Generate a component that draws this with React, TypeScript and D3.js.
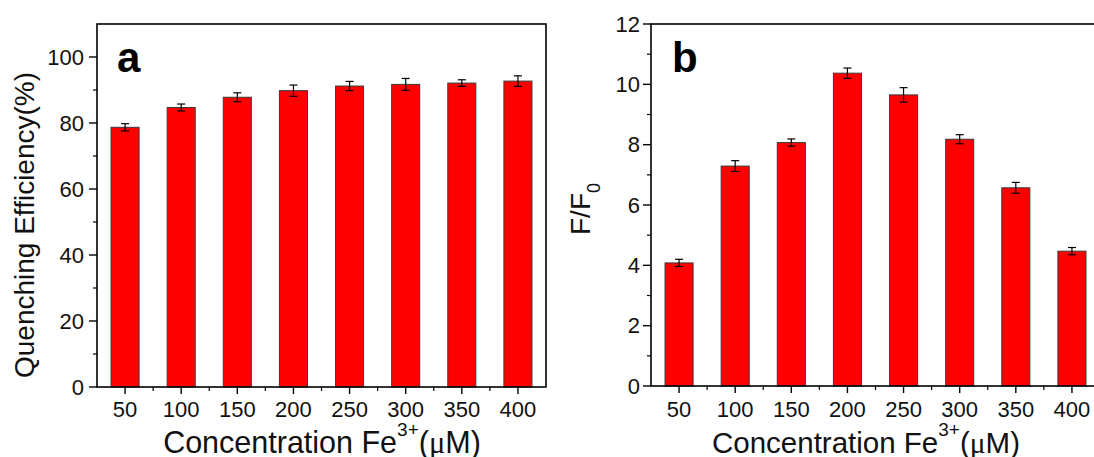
import React from "react";
import * as d3 from "d3";

// Fe3+ concentration (µM) shared by both panels
const concentrations = [50, 100, 150, 200, 250, 300, 350, 400];

// Panel a: quenching efficiency (%) with error
const quenching = [78.7, 84.7, 87.8, 89.8, 91.2, 91.7, 92.1, 92.7];
const quenchingErr = [1.1, 1.05, 1.35, 1.7, 1.4, 1.8, 1.0, 1.6];

// Panel b: F/F0 ratio with error
const ratio = [4.08, 7.29, 8.07, 10.37, 9.65, 8.18, 6.57, 4.47];
const ratioErr = [0.12, 0.18, 0.12, 0.17, 0.24, 0.15, 0.18, 0.12];

const yTicksA = [0, 20, 40, 60, 80, 100];
const yMinorA = [10, 30, 50, 70, 90];
const yTicksB = [0, 2, 4, 6, 8, 10, 12];
const yMinorB = [1, 3, 5, 7, 9, 11];
const xMinor = [75, 125, 175, 225, 275, 325, 375];

const FONT = "'Liberation Sans', Arial, Helvetica, sans-serif";

type PanelProps = {
  left: number;
  right: number;
  top: number;
  bottom: number;
  yMax: number;
  values: number[];
  errors: number[];
  yTicks: number[];
  yMinor: number[];
  labelGap: number;
  letter: string;
  letterX: number;
  titleX: number;
  titleSize: number;
};

function Panel(p: PanelProps) {
  const x = d3.scaleLinear().domain([25, 425]).range([p.left, p.right]);
  const y = d3.scaleLinear().domain([0, p.yMax]).range([p.bottom, p.top]);
  const barW = x(25 + 25) - x(25);
  const capW = 8;
  return (
    <g fontFamily={FONT}>
      {/* bars */}
      {concentrations.map((c, i) => (
        <rect
          key={"bar" + c}
          x={x(c) - barW / 2}
          y={y(p.values[i])}
          width={barW}
          height={y(0) - y(p.values[i])}
          fill="#ff0000"
          stroke="#3a3a3a"
          strokeWidth={1}
        />
      ))}
      {/* error bars */}
      {concentrations.map((c, i) => {
        const hi = y(p.values[i] + p.errors[i]);
        const lo = y(p.values[i] - p.errors[i]);
        return (
          <g key={"err" + c} stroke="#000" strokeWidth={1.2}>
            <line x1={x(c)} x2={x(c)} y1={hi} y2={lo} />
            <line x1={x(c) - capW / 2} x2={x(c) + capW / 2} y1={hi} y2={hi} />
            <line x1={x(c) - capW / 2} x2={x(c) + capW / 2} y1={lo} y2={lo} />
          </g>
        );
      })}
      {/* frame */}
      <rect
        x={p.left}
        y={p.top}
        width={p.right - p.left}
        height={p.bottom - p.top}
        fill="none"
        stroke="#000"
        strokeWidth={1.6}
      />
      {/* y ticks */}
      {p.yTicks.map((t) => (
        <g key={"yt" + t}>
          <line x1={p.left - 8} x2={p.left} y1={y(t)} y2={y(t)} stroke="#000" strokeWidth={1.4} />
          <text
            x={p.left - p.labelGap}
            y={y(t)}
            textAnchor="end"
            dominantBaseline="central"
            fontSize={22}
            fill="#111"
          >
            {t}
          </text>
        </g>
      ))}
      {p.yMinor.map((t) => (
        <line key={"ym" + t} x1={p.left - 4} x2={p.left} y1={y(t)} y2={y(t)} stroke="#000" strokeWidth={1.2} />
      ))}
      {/* x ticks */}
      {concentrations.map((c) => (
        <g key={"xt" + c}>
          <line x1={x(c)} x2={x(c)} y1={p.bottom} y2={p.bottom + 7} stroke="#000" strokeWidth={1.4} />
          <text x={x(c)} y={417} textAnchor="middle" fontSize={22} fill="#111">
            {c}
          </text>
        </g>
      ))}
      {xMinor.map((c) => (
        <line key={"xm" + c} x1={x(c)} x2={x(c)} y1={p.bottom} y2={p.bottom + 4} stroke="#000" strokeWidth={1.2} />
      ))}
      {/* panel letter */}
      <text x={p.letterX} y={72} fontSize={42} fontWeight="bold" fill="#000">
        {p.letter}
      </text>
      {/* x title */}
      <text x={p.titleX} y={453} textAnchor="middle" fontSize={p.titleSize} fill="#111">
        Concentration Fe
        <tspan fontSize={19} dy={-17}>
          3+
        </tspan>
        <tspan dy={17}>(</tspan>
        <tspan fontFamily="'Liberation Serif', 'Times New Roman', serif">μ</tspan>
        <tspan>M)</tspan>
      </text>
    </g>
  );
}

export default function App() {
  return (
    <svg
      width={1094}
      height={457}
      viewBox="0 0 1094 457"
      style={{ position: "absolute", left: 0, top: 0, background: "#fff" }}
    >
      <rect x={0} y={0} width={1094} height={457} fill="#fff" />
      <Panel
        left={97}
        right={546}
        top={24}
        bottom={387}
        yMax={110}
        values={quenching}
        errors={quenchingErr}
        yTicks={yTicksA}
        yMinor={yMinorA}
        labelGap={13}
        letter="a"
        letterX={117}
        titleX={322}
        titleSize={30.5}
      />
      <Panel
        left={651}
        right={1100}
        top={24}
        bottom={386}
        yMax={12}
        values={ratio}
        errors={ratioErr}
        yTicks={yTicksB}
        yMinor={yMinorB}
        labelGap={11}
        letter="b"
        letterX={672}
        titleX={866}
        titleSize={29.5}
      />
      {/* y titles */}
      <text
        transform="translate(34,225) rotate(-90)"
        textAnchor="middle"
        fontFamily={FONT}
        fontSize={28}
        fill="#111"
      >
        Quenching Efficiency(%)
      </text>
      <text
        transform="translate(590,209) rotate(-90)"
        textAnchor="middle"
        fontFamily={FONT}
        fontSize={28}
        fill="#111"
      >
        F/F
        <tspan fontSize={18} dy={10}>
          0
        </tspan>
      </text>
    </svg>
  );
}
